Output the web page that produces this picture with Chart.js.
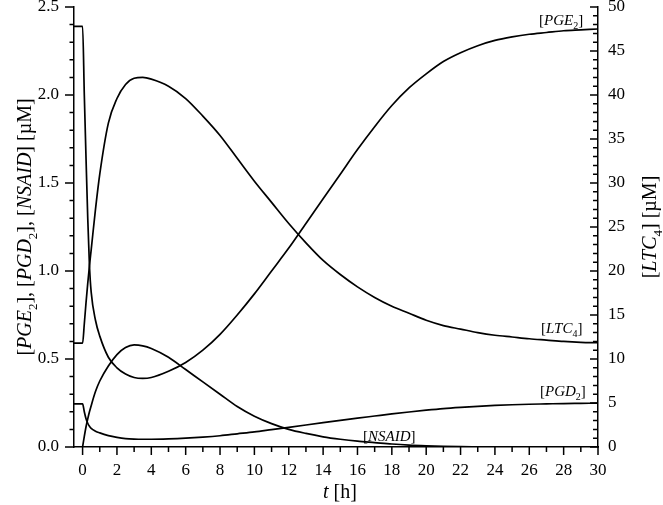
<!DOCTYPE html>
<html>
<head>
<meta charset="utf-8">
<script src="https://cdn.jsdelivr.net/npm/chart.js@4.4.0/dist/chart.umd.min.js"></script>
<style>
  html, body { margin: 0; padding: 0; background: #fff; }
  #wrap { width: 663px; height: 505px; position: relative; }
</style>
</head>
<body>
<div id="wrap"><canvas id="chart"></canvas></div>
<script>
// time grid [h]
const tHours = [-0.5, 0, 0.1, 0.2, 0.3, 0.4, 0.5, 0.75, 1, 1.5, 2, 2.5, 3, 3.5,
  4, 5, 6, 7, 8, 9, 10, 11, 12, 13, 14, 15, 16, 17, 18, 19, 20,
  21, 22, 23, 24, 25, 26, 27, 28, 29, 30];

// [PGE2] (left axis, uM)
const pge2 = [2.39, 2.39, 2.0, 1.64, 1.3, 1.03, 0.88, 0.72, 0.63, 0.51, 0.45, 0.415, 0.395, 0.39,
  0.395, 0.43, 0.48, 0.55, 0.64, 0.75, 0.87, 1.0, 1.13, 1.27, 1.41, 1.55, 1.69, 1.82, 1.94, 2.04, 2.12,
  2.19, 2.24, 2.28, 2.31, 2.33, 2.345, 2.355, 2.365, 2.37, 2.375];

// [PGD2] (left axis, uM)
const pgd2 = [0.245, 0.245, 0.2, 0.16, 0.135, 0.118, 0.106, 0.09, 0.08, 0.065, 0.055, 0.048, 0.045, 0.044,
  0.044, 0.046, 0.05, 0.056, 0.064, 0.075, 0.086, 0.099, 0.112, 0.125, 0.138, 0.151, 0.164, 0.176, 0.188, 0.199, 0.209,
  0.218, 0.225, 0.231, 0.236, 0.24, 0.243, 0.245, 0.247, 0.248, 0.249];

// [LTC4] (right axis, uM)
const ltc4 = [11.8, 11.8, 14, 16.4, 18.6, 20.6, 22.4, 27, 31, 36.8, 39.6, 41.2, 41.9, 42,
  41.8, 41, 39.6, 37.6, 35.4, 32.8, 30.2, 27.8, 25.4, 23.2, 21.2, 19.6, 18.2, 17, 16, 15.2, 14.4,
  13.8, 13.4, 13, 12.7, 12.5, 12.3, 12.15, 12.0, 11.9, 11.85];

// [NSAID] starts at t = 0 (left axis, uM)
const nsaidHours = [0, 0.1, 0.2, 0.3, 0.4, 0.5, 0.75, 1, 1.5, 2, 2.5, 3, 3.5,
  4, 5, 6, 7, 8, 9, 10, 11, 12, 13, 14, 15, 16, 17, 18, 19, 20,
  21, 22, 23, 24, 25, 26, 27, 28, 29, 30];
const nsaid = [0, 0.06, 0.115, 0.16, 0.2, 0.235, 0.315, 0.375, 0.46, 0.525, 0.565, 0.58, 0.575,
  0.56, 0.51, 0.44, 0.37, 0.3, 0.23, 0.175, 0.133, 0.1, 0.077, 0.058, 0.044, 0.033, 0.025, 0.017, 0.011, 0.007,
  0.004, 0.002, 0.001, 0, 0, 0, 0, 0, 0, 0];

const xTicks = [0, 2, 4, 6, 8, 10, 12, 14, 16, 18, 20, 22, 24, 26, 28, 30];
const yLeftTicks = [0, 0.5, 1.0, 1.5, 2.0, 2.5];
const yRightTicks = [0, 5, 10, 15, 20, 25, 30, 35, 40, 45, 50];

const SERIF = '"Liberation Serif", "Times New Roman", serif';

function toPoints(xs, ys) {
  return xs.map((x, i) => ({ x, y: ys[i] }));
}

function lineSet(label, data, axis) {
  return {
    label,
    data,
    yAxisID: axis,
    borderColor: "#000",
    borderWidth: 1.7,
    pointRadius: 0,
    fill: false,
    cubicInterpolationMode: "monotone"
  };
}

// draws text made of parts: {t, i (italic), s (subscript)}
function drawRich(ctx, parts, x, y, size, align) {
  const fontFor = p => (p.i ? "italic " : "") + (p.s ? Math.round(size * 0.65) : size) + "px " + SERIF;
  let total = 0;
  for (const p of parts) {
    ctx.font = fontFor(p);
    total += ctx.measureText(p.t).width;
  }
  let cx = align === "center" ? x - total / 2 : x;
  for (const p of parts) {
    ctx.font = fontFor(p);
    ctx.fillText(p.t, cx, p.s ? y + size * 0.28 : y);
    cx += ctx.measureText(p.t).width;
  }
}

const minorTicks = {
  id: "minorTicks",
  afterDatasetsDraw(chart) {
    const { ctx, scales } = chart;
    const x = scales.x, yl = scales.y, yr = scales.y2;
    const area = chart.chartArea;
    ctx.save();
    ctx.strokeStyle = "#000";
    ctx.lineWidth = 1.5;
    ctx.beginPath();
    for (let v = 0; v <= 30; v++) {
      const px = x.getPixelForValue(v);
      const len = v % 2 === 0 ? 8 : 5;
      ctx.moveTo(px, area.bottom);
      ctx.lineTo(px, area.bottom + len);
    }
    for (let k = 0; k <= 25; k++) {
      const py = yl.getPixelForValue(k / 10);
      const len = k % 5 === 0 ? 9 : 4.5;
      ctx.moveTo(area.left - len, py);
      ctx.lineTo(area.left, py);
    }
    for (let v = 0; v <= 50; v++) {
      const py = yr.getPixelForValue(v);
      const len = v % 5 === 0 ? 8 : 5;
      ctx.moveTo(area.right - len, py);
      ctx.lineTo(area.right, py);
    }
    ctx.stroke();
    ctx.restore();
  },
  afterDraw(chart) {
    const { ctx } = chart;
    ctx.save();
    ctx.fillStyle = "#000";
    ctx.textBaseline = "alphabetic";
    ctx.textAlign = "left";

    // curve labels
    drawRich(ctx, [{ t: "[" }, { t: "PGE", i: true }, { t: "2", s: true }, { t: "]" }], 539, 25, 15);
    drawRich(ctx, [{ t: "[" }, { t: "LTC", i: true }, { t: "4", s: true }, { t: "]" }], 541, 333, 15);
    drawRich(ctx, [{ t: "[" }, { t: "PGD", i: true }, { t: "2", s: true }, { t: "]" }], 540, 396, 15);
    drawRich(ctx, [{ t: "[" }, { t: "NSAID", i: true }, { t: "]" }], 363, 441, 15);

    // x title
    drawRich(ctx, [{ t: "t", i: true }, { t: " [h]" }], 340, 498, 20, "center");

    // left title
    ctx.save();
    ctx.translate(31, 227);
    ctx.rotate(-Math.PI / 2);
    drawRich(ctx, [
      { t: "[" }, { t: "PGE", i: true }, { t: "2", s: true }, { t: "], [" },
      { t: "PGD", i: true }, { t: "2", s: true }, { t: "], [" },
      { t: "NSAID", i: true }, { t: "] [\u00b5M]" }
    ], 0, 0, 20, "center");
    ctx.restore();

    // right title
    ctx.save();
    ctx.translate(656, 227);
    ctx.rotate(-Math.PI / 2);
    drawRich(ctx, [
      { t: "[" }, { t: "LTC", i: true }, { t: "4", s: true }, { t: "] [\u00b5M]" }
    ], 0, 0, 20, "center");
    ctx.restore();

    ctx.restore();
  }
};

const tickFont = { family: SERIF, size: 17 };

new Chart(document.getElementById("chart"), {
  type: "line",
  data: {
    datasets: [
      lineSet("PGE2", toPoints(tHours, pge2), "y"),
      lineSet("PGD2", toPoints(tHours, pgd2), "y"),
      lineSet("LTC4", toPoints(tHours, ltc4), "y2"),
      lineSet("NSAID", toPoints(nsaidHours, nsaid), "y")
    ]
  },
  options: {
    responsive: true,
    maintainAspectRatio: false,
    animation: false,
    layout: { padding: { top: 7, left: 0, right: 0, bottom: 0 } },
    plugins: { legend: { display: false }, tooltip: { enabled: false } },
    scales: {
      x: {
        type: "linear",
        min: -0.5,
        max: 30,
        grid: { display: false, drawTicks: false },
        border: { display: true, color: "#000", width: 1.5 },
        ticks: { font: tickFont, color: "#000", padding: 13, maxRotation: 0 },
        afterBuildTicks: s => { s.ticks = xTicks.map(v => ({ value: v })); },
        afterFit: s => { s.height = 58; s.paddingLeft = 0; s.paddingRight = 0; }
      },
      y: {
        position: "left",
        min: 0,
        max: 2.5,
        grid: { display: false, drawTicks: false },
        border: { display: true, color: "#000", width: 1.5 },
        ticks: { font: tickFont, color: "#000", padding: 15, callback: v => Number(v).toFixed(1) },
        afterBuildTicks: s => { s.ticks = yLeftTicks.map(v => ({ value: v })); },
        afterFit: s => { s.width = 74; s.paddingTop = 0; s.paddingBottom = 0; }
      },
      y2: {
        position: "right",
        min: 0,
        max: 50,
        grid: { display: false, drawTicks: false },
        border: { display: true, color: "#000", width: 1.5 },
        ticks: { font: tickFont, color: "#000", padding: 10, callback: v => String(v) },
        afterBuildTicks: s => { s.ticks = yRightTicks.map(v => ({ value: v })); },
        afterFit: s => { s.width = 65; s.paddingTop = 0; s.paddingBottom = 0; }
      }
    }
  },
  plugins: [minorTicks]
});
</script>
</body>
</html>
